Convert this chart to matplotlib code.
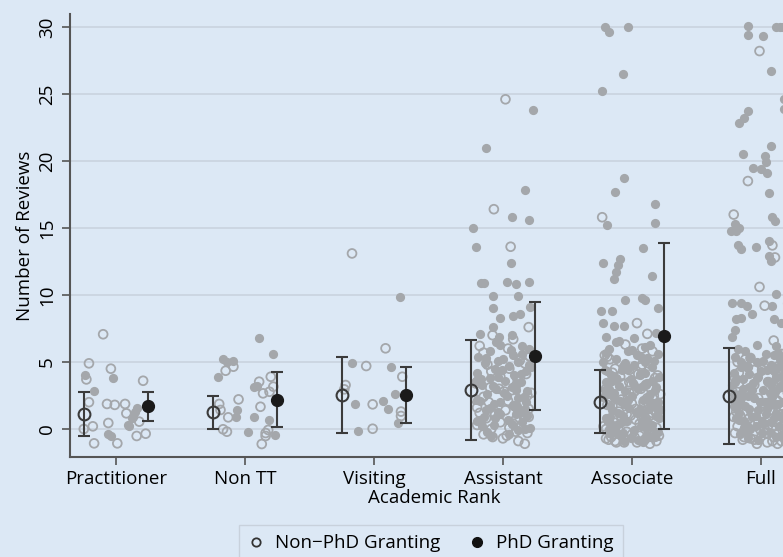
import matplotlib
matplotlib.use("Agg")
import matplotlib.pyplot as plt
from matplotlib.lines import Line2D

plt.rcParams["font.family"] = ["Open Sans", "DejaVu Sans"]

ranks = ["Practitioner", "Non TT", "Visiting", "Assistant", "Associate", "Full"]

# group means and standard deviations (error bars)
nonphd_mean = [1.12, 1.25, 2.54, 2.93, 2.04, 2.46]
nonphd_sd = [1.62, 1.22, 2.86, 3.72, 2.33, 3.57]
phd_mean = [1.68, 2.20, 2.54, 5.45, 6.96, 8.30]
phd_sd = [1.08, 2.06, 2.06, 4.04, 6.94, 6.56]

# individual reviewers (y jittered as in the original), plus horizontal jitter
prac_non_y = [7.07, 4.9, 3.7, 2.0, 0.0, 0.2, -1.07, 4.5, 1.87, 1.8, 0.45, -1.07, 1.87, 1.17, -0.52, 0.55, 3.6, -0.35]
prac_non_jit = [-0.10, -0.21, -0.23, -0.21, -0.25, -0.18, -0.17, -0.04, -0.07, -0.01, -0.06, 0.01, 0.07, 0.08, 0.16, 0.18, 0.21, 0.23]
prac_phd_y = [4.0, 2.8, 3.83, -0.37, -0.5, 0.22, 0.85, 1.3, 1.54, 0.92, 0.3]
prac_phd_jit = [-0.24, -0.17, -0.02, -0.06, -0.04, 0.10, 0.12, 0.15, 0.16, 0.13, 0.09]

nontt_non_y = [4.35, 4.65, 3.53, 3.9, 2.66, 2.78, 3.16, 2.21, 1.66, 0.87, 1.42, 1.87, -0.02, -0.2, -0.07, -0.52, -1.12, -0.3]
nontt_non_jit = [-0.15, -0.09, 0.11, 0.20, 0.14, 0.19, 0.22, -0.05, 0.12, -0.13, -0.19, -0.20, -0.17, -0.14, 0.18, 0.16, 0.13, 0.16]
nontt_phd_y = [6.8, 5.6, 5.2, 5.0, 5.1, 3.86, 3.1, 3.2, 1.42, 0.92, 0.87, -0.2, 0.67, -0.45]
nontt_phd_jit = [0.11, 0.22, -0.17, -0.14, -0.09, -0.21, 0.07, 0.09, -0.06, -0.07, 0.07, 0.02, 0.19, 0.23]

visit_non_y = [13.1, 6.02, 4.7, 3.9, 3.28, 2.96, 1.84, 1.3, 0.97, 0.02]
visit_non_jit = [-0.17, 0.09, -0.06, 0.22, -0.22, -0.23, -0.01, 0.21, 0.21, -0.01]
visit_phd_y = [9.87, 4.95, 4.65, 2.61, 1.84, 2.11, 1.47, 0.47, -0.12]
visit_phd_jit = [0.20, -0.17, 0.13, 0.16, -0.15, 0.07, 0.11, 0.19, -0.12]

asst_non_y = [24.6, 16.4, 13.6, 7.6, 7.0, 6.7, 6.2, 5.4, 4.8, 4.5, 4.1, 3.6, 3.2, 3.0, 2.7, 2.4, 2.1, 1.9, 1.6, 1.3,
              1.1, 0.9, 0.6, 0.4, 0.2, 0.0, -0.3, -0.6, -0.7, -1.1, 3.9, 2.2, 1.4, 0.8, 5.1, 2.9, 0.3, -0.2,
              5.7, 4.9, 4.3, 3.8, 3.4, 2.8, 2.5, 2.0, 1.7, 1.2, 1.0, 0.5, 0.1, -0.4, -0.9, 6.0, 3.1, 1.5, 0.7, -0.5]
asst_non_jit = [0.02, -0.07, 0.06, 0.20, -0.08, 0.08, -0.18, 0.21, -0.12, 0.05, 0.18, -0.19, 0.10, -0.03, 0.22, -0.15, 0.04, 0.16, -0.20, 0.12,
                -0.06, 0.20, -0.17, 0.08, 0.14, -0.09, 0.19, -0.08, 0.00, 0.17, -0.02, -0.21, 0.02, -0.13, 0.13, 0.07, -0.20, 0.10,
                -0.15, 0.17, -0.09, 0.11, -0.21, 0.01, 0.19, -0.11, 0.09, -0.18, 0.16, -0.02, 0.05, -0.15, 0.12, 0.04, -0.10, 0.20, 0.10, 0.03]
asst_phd_y = [23.8, 21.0, 17.8, 15.8, 15.6, 15.0, 13.6, 12.4, 10.9, 10.9, 11.0, 10.8, 11.0, 9.9, 9.9, 9.0, 8.3, 8.4, 8.6, 9.1,
              7.6, 7.1, 6.9, 6.3, 7.0,
              6.0, 5.8, 5.6, 5.4, 5.2, 5.0, 4.9, 4.7, 4.5, 4.3, 4.2, 4.0, 3.8, 3.6, 3.5, 3.3, 3.1, 3.0, 2.8, 2.6,
              2.5, 2.3, 2.1, 2.0, 1.8, 1.6, 1.5, 1.3, 1.1, 0.9, 0.7, 0.5, 0.3, 0.1, -0.2, -0.4,
              5.5, 4.6, 3.9, 2.9, 1.9, 1.2, 0.6, 0.0,
              6.5, 5.9, 5.3, 4.8, 4.4, 4.1, 3.7, 3.4, 3.2, 2.7, 2.4, 2.2, 1.7, 1.4, 1.0, 0.8, 0.4, 0.2, -0.1, 6.2,
              5.1, 3.6, 2.0, 1.1, -0.5]
asst_phd_jit = [0.23, -0.13, 0.17, 0.07, 0.20, -0.23, -0.21, 0.06, -0.17, -0.15, 0.03, 0.10, 0.20, -0.08, 0.12, -0.08, -0.02, 0.08, 0.13, 0.21,
                -0.08, -0.18, -0.03, -0.02, 0.07,
                0.20, -0.10, 0.15, -0.19, 0.00, 0.12, -0.14, 0.05, -0.06, 0.18, -0.20, 0.09, -0.10, 0.02, 0.14, -0.16, 0.07, -0.05, 0.19, -0.12,
                0.03, 0.12, -0.18, -0.02, 0.08, -0.10, 0.17, -0.04, 0.10, -0.15, 0.04, 0.15, -0.07, 0.21, -0.12, 0.05,
                0.08, 0.22, -0.04, 0.10, -0.07, 0.13, -0.20, 0.17,
                -0.05, 0.06, -0.13, 0.20, -0.01, 0.14, -0.17, 0.10, -0.08, 0.01, 0.16, -0.20, 0.11, -0.13, 0.19, -0.06, 0.07, -0.16, 0.12, 0.15,
                -0.04, -0.21, 0.18, -0.02, -0.09]

assoc_non_y = [15.8, 7.9, 7.1, 6.3, 5.8, 5.2, 4.8, 4.4, 4.0, 3.7, 3.3, 3.0, 2.8, 2.5, 2.2, 2.0, 1.7, 1.4, 1.1, 0.9,
               0.6, 0.4, 0.1, -0.1, -0.4, -0.6, -0.8, -1.0, -1.1, 5.5, 3.5, 2.6, 1.2, 0.2, -0.3, -0.9, 4.6, 1.8, 0.7, -0.5,
               6.0, 5.4, 4.9, 4.5, 4.1, 3.8, 3.4, 3.1, 2.7, 2.3, 1.9, 1.6, 1.3, 0.8, 0.5, 0.0, -0.2, -0.5, -0.7, -0.9,
               -1.0, 2.4, 3.9, 1.0, -0.4,
               3.0, 2.1, 1.5, 0.9, 0.3, -0.2, -0.6, -0.8, 1.8, 2.7, 0.0, -1.0, 4.2, 1.2, -0.4]
assoc_non_jit = [-0.23, 0.04, 0.12, -0.05, 0.16, -0.17, 0.08, -0.02, 0.20, -0.12, 0.11, -0.20, 0.02, 0.17, -0.08, 0.09, -0.15, 0.21, -0.04, 0.13,
                 -0.18, 0.06, 0.19, -0.10, 0.00, -0.16, 0.10, -0.06, 0.14, -0.21, -0.02, 0.22, 0.16, -0.22, 0.18, -0.13, 0.07, -0.19, 0.03, 0.21,
                 0.08, -0.19, 0.13, -0.13, 0.05, 0.18, -0.07, 0.14, -0.18, 0.12, 0.00, 0.20, -0.10, 0.08, -0.14, 0.15, -0.04, 0.06, -0.20, 0.19,
                 -0.12, -0.03, -0.09, -0.01, 0.13,
                 0.07, -0.16, 0.03, -0.08, 0.10, -0.13, 0.02, -0.18, 0.13, -0.02, -0.20, 0.04, -0.15, 0.19, 0.17]
assoc_phd_y = [30.0, 29.6, 30.0, 26.5, 25.2, 18.7, 17.7, 16.8, 15.2, 15.4, 13.5, 12.4, 12.7, 12.2, 11.7, 11.2, 11.4, 9.6, 9.8, 9.6,
               9.0, 8.8, 8.8, 7.9, 7.7, 7.7, 7.2, 6.9, 6.6, 6.8,
               6.3, 6.0, 5.8, 5.6, 5.4, 5.2, 5.0, 4.8, 4.6, 4.4, 4.2, 4.0, 3.9, 3.7, 3.5, 3.4, 3.2, 3.0, 2.9, 2.7,
               2.5, 2.4, 2.2, 2.0, 1.9, 1.7, 1.5, 1.3, 1.2, 1.0, 0.8, 0.6, 0.5, 0.3, 0.1, -0.1, -0.3, -0.5, -0.7, -0.8,
               4.9, 3.6, 2.6, 1.4, 0.4, 5.3, 2.1, -0.6,
               6.5, 6.1, 5.7, 5.5, 5.1, 4.7, 4.3, 4.1, 3.8, 3.3, 3.1, 2.8, 2.3, 1.8, 1.6, 1.1, 0.9, 0.7, 0.2, 0.0,
               -0.2, -0.4, -0.9, -1.0, 4.5, 3.0, 1.5, 0.5, 5.9, 2.5,
               3.6, 3.2, 2.9, 2.6, 2.2, 1.9, 1.4, 1.2, 0.8, 0.4, 0.1, -0.3, -0.6, 4.0, 4.4, 5.0, 2.0, 1.0, -0.1, 3.4]
assoc_phd_jit = [-0.21, -0.18, -0.03, -0.07, -0.23, -0.06, -0.13, 0.18, -0.19, 0.18, 0.09, -0.22, -0.09, -0.11, -0.12, -0.14, 0.16, -0.05, 0.08, 0.10,
                 0.20, -0.24, -0.15, -0.22, -0.14, -0.06, 0.19, -0.20, -0.10, 0.02,
                 0.14, -0.18, -0.03, 0.20, 0.07, -0.12, -0.22, 0.02, 0.16, -0.08, 0.10, -0.16, 0.21, -0.01, -0.20, 0.12, -0.10, 0.05, 0.18, -0.14,
                 0.00, -0.22, 0.09, 0.20, -0.06, -0.17, 0.13, 0.03, -0.11, 0.19, -0.20, -0.04, 0.08, 0.16, -0.13, 0.02, -0.07, 0.11, -0.01, 0.05,
                 -0.05, 0.16, -0.18, 0.22, -0.16, 0.12, -0.09, 0.14,
                 -0.12, 0.10, -0.20, 0.04, 0.17, -0.07, -0.19, 0.06, -0.12, 0.02, 0.19, -0.05, -0.14, 0.15, -0.02, 0.09, -0.17, 0.12, 0.07, -0.18,
                 0.20, -0.10, -0.06, 0.09, -0.03, -0.18, 0.06, -0.08, 0.00, 0.13,
                 -0.15, 0.09, -0.21, 0.14, -0.03, 0.17, -0.15, 0.04, 0.21, -0.11, 0.11, -0.18, 0.18, 0.06, -0.21, 0.10, 0.14, -0.07, -0.15, 0.01]

full_non_y = [28.2, 18.5, 16.0, 13.7, 12.8, 10.6, 9.2, 6.6,
              5.9, 5.4, 5.0, 4.7, 4.4, 4.1, 3.8, 3.5, 3.2, 2.9, 2.6, 2.3, 2.0, 1.7, 1.4, 1.1, 0.8, 0.5, 0.2, 0.0,
              -0.2, -0.4, -0.6, -0.8, -1.0, -1.1, -0.9, -0.3, 0.4, 1.9, 3.0, 4.6, 0.9, -0.7,
              5.6, 5.2, 4.9, 4.5, 4.2, 3.9, 3.3, 2.7, 2.4, 2.1, 1.6, 1.2, 0.7, 0.3, 0.1, -0.1, -0.5, -0.7, -0.9, -1.1,
              4.8, 3.6, 1.0, -0.3, 2.8,
              4.1, 3.4, 2.5, 1.8, 1.3, 0.6, 0.2, -0.4, -0.8, -1.0, 5.3, 2.2, 0.8, -0.6, 4.4]
full_non_jit = [-0.01, -0.10, -0.21, 0.09, 0.11, -0.01, 0.03, 0.10,
                0.22, 0.20, -0.18, 0.14, -0.05, 0.21, -0.20, 0.06, 0.18, -0.12, 0.10, -0.02, 0.20, -0.16, 0.07, 0.16, -0.09, 0.12, -0.18, 0.03,
                0.20, -0.06, 0.10, -0.14, 0.05, -0.03, 0.16, -0.20, 0.22, 0.01, 0.22, -0.10, -0.21, 0.19,
                0.16, -0.12, 0.21, 0.08, -0.17, 0.13, -0.05, 0.21, -0.15, 0.13, 0.18, -0.07, 0.14, 0.06, -0.12, 0.17, 0.22, -0.08, 0.09, 0.13,
                0.20, 0.16, -0.16, 0.04, -0.22,
                0.19, -0.17, 0.17, 0.21, -0.19, -0.02, 0.09, 0.13, -0.05, 0.20, -0.08, -0.20, 0.22, -0.13, 0.01]
full_phd_y = [30.1, 29.4, 29.3, 30.0, 30.0, 30.0, 26.7, 24.6, 23.9, 23.7, 23.2, 22.8, 21.1, 20.5, 20.4, 19.9, 19.5, 19.4, 19.1, 17.6,
              15.3, 15.0, 14.8, 14.8, 15.8, 15.5, 13.7, 13.4, 13.6, 14.0, 12.9, 12.5, 10.1, 9.4, 9.4, 9.2, 9.2, 9.4, 8.2, 8.3,
              8.6, 8.2, 7.9, 7.4, 6.9, 6.2,
              5.8, 5.6, 5.4, 5.2, 5.0, 4.8, 4.6, 4.5, 4.3, 4.1, 3.9, 3.7, 3.6, 3.4, 3.2, 3.0, 2.9, 2.7, 2.5, 2.4,
              2.2, 2.0, 1.9, 1.7, 1.5, 1.3, 1.2, 1.0, 0.8, 0.6, 0.4, 0.2, 0.0, -0.2, -0.4, -0.6, -0.8,
              4.0, 2.6, 1.1, 3.3, 5.5, 0.9, 2.1, 3.8,
              6.0, 5.7, 5.3, 5.1, 4.9, 4.7, 4.4, 4.2, 3.9, 3.5, 3.1, 2.8, 2.6, 2.3, 2.0, 1.8, 1.6, 1.4, 1.1, 0.9,
              0.7, 0.5, 0.3, 0.1, -0.1, -0.3, -0.5, -0.7, 4.6, 3.7, 2.9, 1.9, 1.0, 0.0, 6.3,
              4.3, 3.9, 3.5, 3.1, 2.7, 2.3, 1.9, 1.5, 1.2, 0.8, 0.5, 0.2, -0.2, -0.5, 5.0, 4.7, 2.0, 0.6, 3.3, 1.7]
full_phd_jit = [-0.10, -0.10, 0.02, 0.12, 0.15, 0.17, 0.08, 0.18, 0.18, -0.10, -0.13, -0.17, 0.08, -0.14, 0.03, 0.04, -0.06, 0.00, 0.05, 0.06,
                -0.20, -0.17, -0.19, -0.23, 0.09, 0.11, -0.18, -0.15, -0.04, 0.06, 0.06, 0.08, 0.12, -0.22, -0.15, -0.11, 0.09, 0.20, -0.19, -0.15,
                -0.07, 0.10, 0.16, -0.20, -0.22, 0.12,
                -0.12, 0.04, -0.20, 0.15, -0.03, 0.08, -0.15, 0.18, 0.00, -0.09, 0.12, -0.19, 0.05, -0.06, 0.15, -0.14, 0.02, 0.20, -0.10, 0.09,
                -0.20, -0.01, 0.13, -0.12, 0.05, 0.19, -0.17, -0.04, 0.10, -0.13, 0.02, 0.14, -0.08, 0.07, -0.16, 0.12, -0.02,
                0.21, -0.21, 0.20, -0.22, 0.10, -0.07, 0.06, -0.03,
                -0.18, 0.13, -0.08, 0.02, 0.19, -0.11, 0.05, -0.21, 0.16, 0.09, -0.09, 0.11, -0.16, -0.05, 0.17, 0.07, -0.19, -0.02, 0.04, 0.16,
                -0.17, 0.08, -0.11, 0.19, -0.14, 0.01, 0.15, -0.10, 0.13, -0.14, -0.07, -0.15, 0.14, 0.20, -0.03,
                0.10, -0.02, -0.20, 0.17, 0.07, -0.15, 0.11, -0.09, 0.12, -0.19, 0.20, -0.04, -0.11, 0.18, -0.15, 0.18, 0.03, 0.01, 0.08, -0.21]

non_groups = [(prac_non_jit, prac_non_y), (nontt_non_jit, nontt_non_y), (visit_non_jit, visit_non_y),
              (asst_non_jit, asst_non_y), (assoc_non_jit, assoc_non_y), (full_non_jit, full_non_y)]
phd_groups = [(prac_phd_jit, prac_phd_y), (nontt_phd_jit, nontt_phd_y), (visit_phd_jit, visit_phd_y),
              (asst_phd_jit, asst_phd_y), (assoc_phd_jit, assoc_phd_y), (full_phd_jit, full_phd_y)]

bg = "#dce8f5"
dot = "#a4a7ab"
dark = "#3b3b3b"

fig = plt.figure(figsize=(7.83, 5.57), dpi=100, facecolor=bg)
ax = fig.add_axes([0.0894, 0.1795, 0.93, 0.7955], facecolor=bg)

for i in range(len(ranks)):
    pos = i + 1
    jit, ys = non_groups[i]
    ax.scatter([pos + j for j, _ in zip(jit, ys, strict=True)], ys, s=40,
               facecolors="none", edgecolors=dot, linewidths=1.3, zorder=2)
    jit, ys = phd_groups[i]
    ax.scatter([pos + j for j, _ in zip(jit, ys, strict=True)], ys, s=44,
               color=dot, linewidths=0, zorder=2)

xs = list(range(1, len(ranks) + 1))
ax.errorbar([x - 0.25 for x in xs], nonphd_mean, yerr=nonphd_sd, fmt="o", ms=8.5,
            mfc="none", mec=dark, mew=1.5, ecolor=dark, elinewidth=1.5, capsize=4, capthick=1.5, zorder=3)
ax.errorbar([x + 0.25 for x in xs], phd_mean, yerr=phd_sd, fmt="o", ms=8.5,
            mfc="#1a1a1a", mec="#1a1a1a", ecolor=dark, elinewidth=1.5, capsize=4, capthick=1.5, zorder=3)

ax.set_xlim(0.643, 6.29)
ax.set_ylim(-2.09, 30.97)
ax.set_xticks(xs)
ax.set_xticklabels(ranks)
ax.set_yticks(range(0, 31, 5))
ax.tick_params(axis="y", labelrotation=90, length=6, width=1.2, color="#555555", labelsize=13.5, pad=4)
ax.tick_params(axis="x", length=6, width=1.2, color="#555555", labelsize=13.5, pad=3)
for lab in ax.get_yticklabels():
    lab.set_va("center")
ax.grid(axis="y", color="#c9d3df", linewidth=1.2, zorder=0)
ax.set_axisbelow(True)
for side in ["top", "right"]:
    ax.spines[side].set_visible(False)
for side in ["left", "bottom"]:
    ax.spines[side].set_color("#555555")
    ax.spines[side].set_linewidth(1.5)

ax.set_ylabel("Number of Reviews", fontsize=13.5, labelpad=3)
ax.set_xlabel("Academic Rank", fontsize=13.5, labelpad=1)

handles = [Line2D([], [], ls="none", marker="o", ms=6, mfc="none", mec="#333333", mew=1.3),
           Line2D([], [], ls="none", marker="o", ms=7, mfc="#111111", mec="#111111")]
leg = fig.legend(handles, ["Non\u2212PhD Granting", "PhD Granting"], loc="upper center",
                 bbox_to_anchor=(0.5505, 0.0575), ncol=2, frameon=True, fancybox=False,
                 fontsize=13.5, handlelength=0.8, handletextpad=0.6, columnspacing=1.6,
                 borderpad=0.5, borderaxespad=0)
leg.get_frame().set_facecolor(bg)
leg.get_frame().set_edgecolor("#c4ccd6")
leg.get_frame().set_linewidth(1.0)

fig.savefig("out.png", dpi=100, facecolor=bg)
